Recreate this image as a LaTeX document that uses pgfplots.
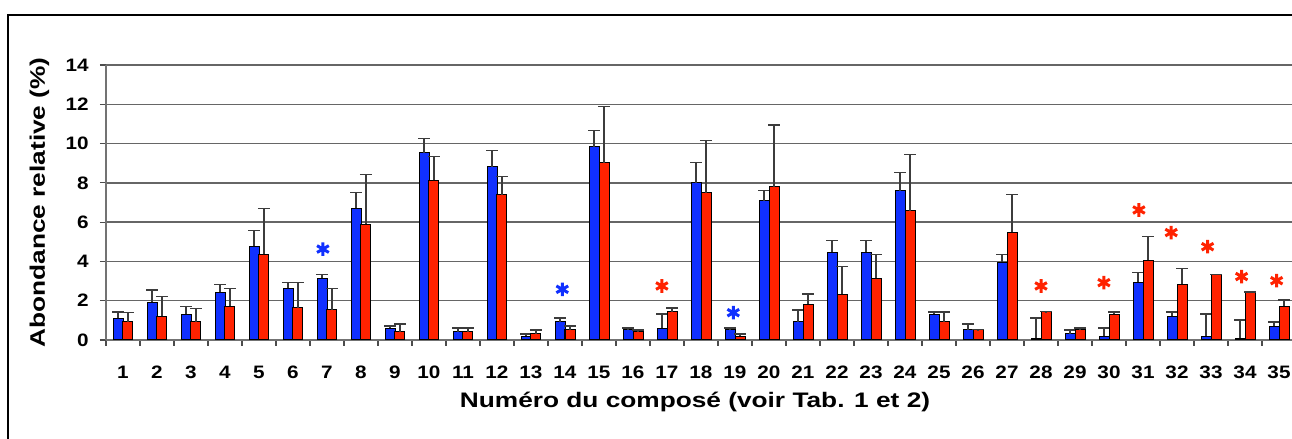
\documentclass[border=0pt]{standalone}
\usepackage{fontspec}
\setmainfont{Liberation Sans}
\usepackage{graphicx}
\usepackage{pgfplots}
\usepackage{pgfplotstable}
\pgfplotsset{compat=1.18}
\definecolor{barblue}{RGB}{16,48,255}
\definecolor{barred}{RGB}{255,34,0}
\definecolor{errgray}{RGB}{60,60,60}

\pgfplotstableread{
x b be r re
1 1.10 0.33 0.92 0.50
2 1.92 0.63 1.22 1.00
3 1.30 0.42 0.92 0.70
4 2.42 0.42 1.73 0.90
5 4.78 0.80 4.36 2.33
6 2.63 0.31 1.63 1.31
7 3.14 0.20 1.53 1.10
8 6.70 0.80 5.89 2.53
9 0.61 0.10 0.41 0.40
10 9.54 0.71 8.12 1.22
11 0.41 0.20 0.41 0.20
12 8.83 0.81 7.40 0.92
13 0.20 0.11 0.31 0.20
14 0.92 0.20 0.51 0.20
15 9.85 0.81 9.03 2.85
16 0.51 0.10 0.41 0.10
17 0.61 0.71 1.43 0.20
18 8.01 1.02 7.50 2.65
19 0.51 0.10 0.20 0.11
20 7.10 0.51 7.81 3.14
21 0.92 0.61 1.83 0.51
22 4.47 0.61 2.33 1.42
23 4.47 0.61 3.14 1.22
24 7.61 0.91 6.59 2.85
25 1.32 0.11 0.92 0.51
26 0.51 0.30 0.51 0.01
27 3.96 0.40 5.48 1.92
28 0.10 1.02 1.43 0.01
29 0.31 0.20 0.51 0.10
30 0.20 0.41 1.32 0.11
31 2.94 0.51 4.06 1.22
32 1.22 0.21 2.84 0.81
33 0.20 1.12 3.34 0.01
34 0.10 0.92 2.43 0.01
35 0.71 0.21 1.73 0.31
}\data

\pgfplotstableread{
x y
6.88 4.63
13.92 2.58
18.95 1.39
}\bluestar

\pgfplotstableread{
x y
16.85 2.75
28.00 2.75
29.85 2.92
30.88 6.62
31.83 5.47
32.90 4.75
33.90 3.23
34.93 3.02
}\redstar

\begin{document}
\begin{tikzpicture}
\path[use as bounding box] (0,0) rectangle (646pt,219.5pt);
\draw[line width=1pt] (4.2pt,-2pt) -- (4.2pt,212pt) -- (650pt,212pt);
\begin{axis}[
  at={(53pt,49.5pt)}, anchor=south west,
  scale only axis, width=595pt, height=137.5pt,
  xmin=0.5, xmax=35.5, ymin=0, ymax=14,
  axis x line*=bottom, axis y line*=left,
  axis line style={draw=black!55, line width=0.7pt},
  tick align=outside,
  xtick={1,...,35},
  major x tick style={draw=none},
  minor xtick={0.5,1.5,...,35.5},
  minor x tick style={draw=black!70, line width=0.6pt},
  minor tick length=3pt,
  ytick={0,2,...,14},
  major y tick style={draw=black!70, line width=0.6pt},
  major tick length=3pt,
  ymajorgrids,
  major grid style={draw=black!60, line width=0.7pt},
  /pgf/number format/assume math mode=true,
  tick label style={font=\bfseries\fontsize{9}{10}\selectfont},
  xticklabel={\scalebox{1.15}[1]{\pgfmathprintnumber{\tick}}},
  yticklabel={\scalebox{1.15}[1]{\pgfmathprintnumber{\tick}}},
  xticklabel style={anchor=base, yshift=-16.5pt, inner sep=0pt},
  yticklabel style={anchor=east, xshift=-5.5pt, inner sep=0pt},
  every axis y label/.style={at={(axis description cs:-0.056,0.5)}, rotate=90, anchor=center, font=\bfseries\fontsize{10.5}{12}\selectfont},
  every axis x label/.style={at={(axis description cs:0.495,-0.247)}, anchor=base, font=\bfseries\fontsize{10.5}{12}\selectfont},
  ylabel={\scalebox{1.25}[1]{Abondance relative (\%)}},
  xlabel={\scalebox{1.25}[1]{Numéro du composé (voir Tab. 1 et 2)}},
  clip=false,
]
\addplot[ybar, bar width=5pt, bar shift=0pt, fill=barblue, draw=black, line width=0.5pt,
  error bars/.cd, y dir=plus, y explicit, error mark=|,
  error bar style={draw=errgray, line width=0.6pt},
  error mark options={draw=errgray, mark size=3pt, line width=0.6pt}]
  table[x expr=\thisrow{x}-0.147, y=b, y error=be] {\data};
\addplot[ybar, bar width=5pt, bar shift=0pt, fill=barred, draw=black, line width=0.5pt,
  error bars/.cd, y dir=plus, y explicit, error mark=|,
  error bar style={draw=errgray, line width=0.6pt},
  error mark options={draw=errgray, mark size=3pt, line width=0.6pt}]
  table[x expr=\thisrow{x}+0.147, y=r, y error=re] {\data};
\addplot[only marks, mark=asterisk, mark size=3.4pt, draw=barblue, line width=1.5pt]
  table[x=x, y=y] {\bluestar};
\addplot[only marks, mark=asterisk, mark size=3.4pt, draw=barred, line width=1.5pt]
  table[x=x, y=y] {\redstar};
\end{axis}
\end{tikzpicture}
\end{document}
